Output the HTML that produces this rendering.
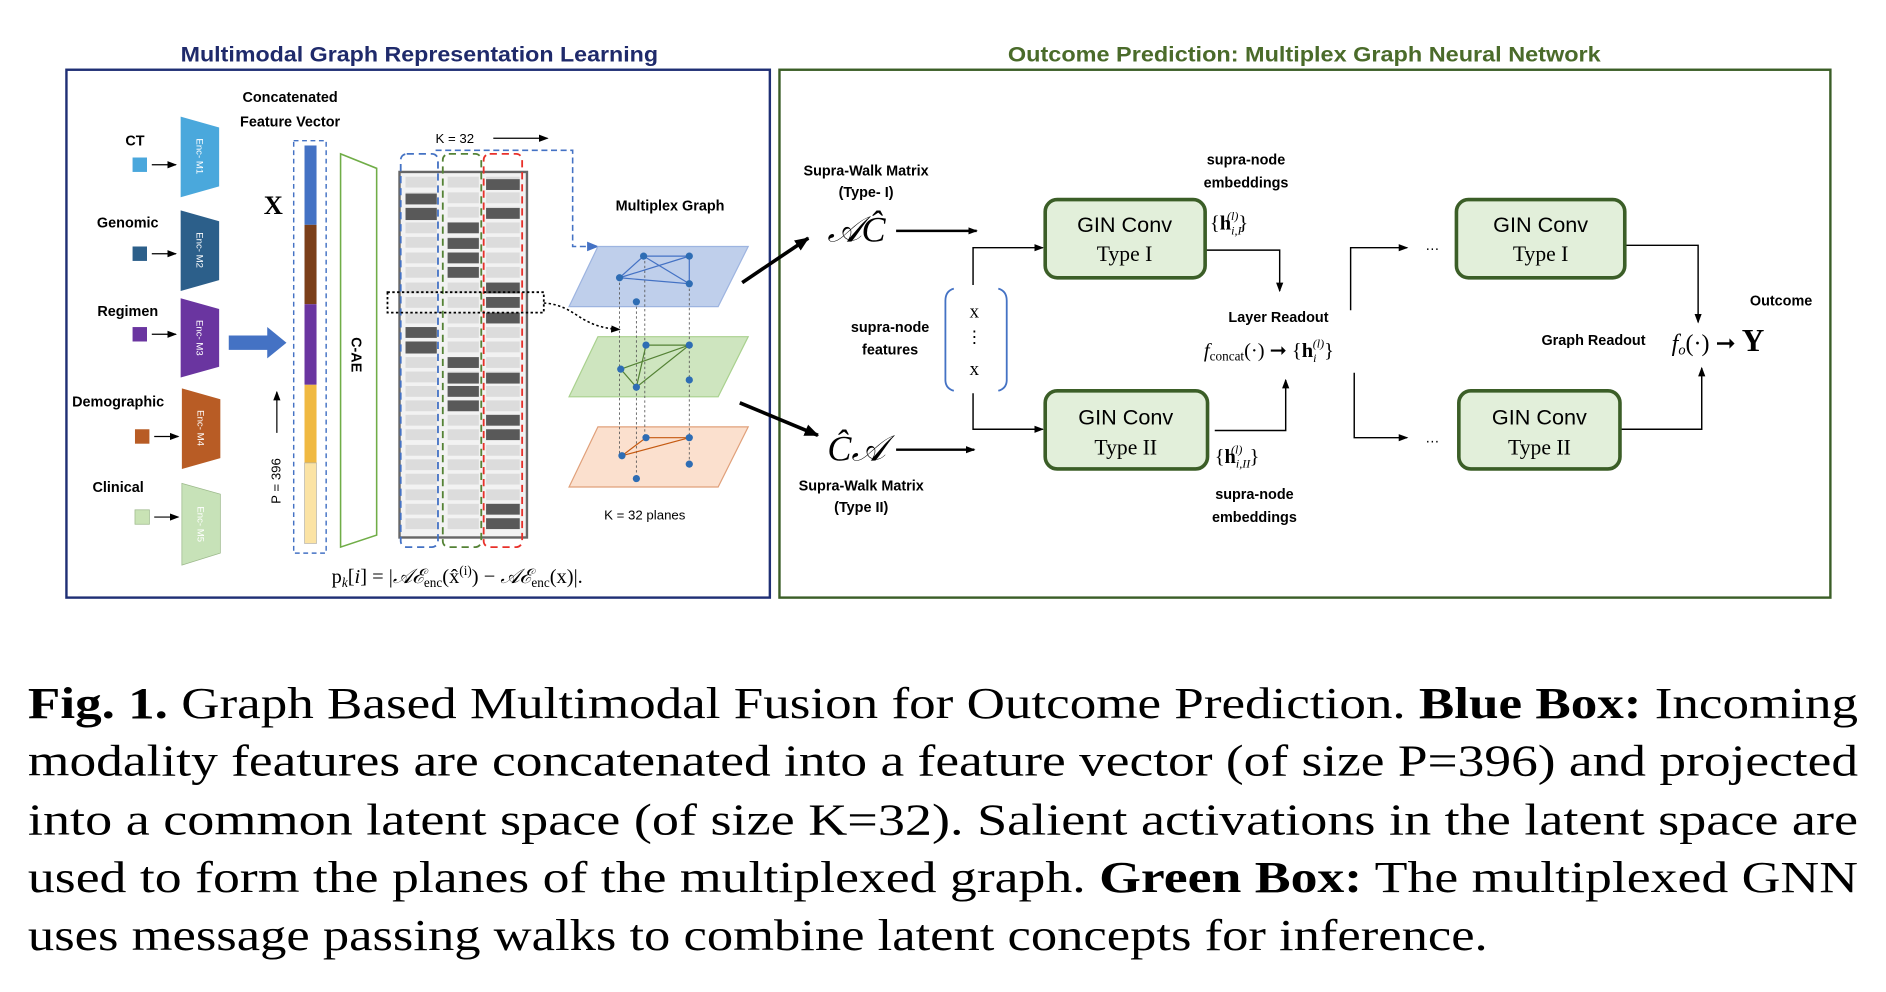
<!DOCTYPE html>
<html><head><meta charset="utf-8"><style>
html,body{margin:0;padding:0;background:#fff;}
svg{display:block;}
.sb{font-family:"Liberation Sans Narrow","Liberation Sans",sans-serif;font-weight:bold;}
.s{font-family:"Liberation Sans Narrow","Liberation Sans",sans-serif;}
.r{font-family:"Liberation Serif","DejaVu Serif",serif;}
</style></head><body>
<svg width="1886" height="992" viewBox="0 0 1568 825" xmlns="http://www.w3.org/2000/svg">
<defs>
<marker id="a" markerWidth="8" markerHeight="8" refX="7" refY="4" orient="auto" markerUnits="userSpaceOnUse"><path d="M0,1 L8,4 L0,7 z" fill="#000"/></marker>
<marker id="ab" markerWidth="12" markerHeight="12" refX="11" refY="6" orient="auto" markerUnits="userSpaceOnUse"><path d="M0,1 L12,6 L0,11 z" fill="#000"/></marker>
<marker id="abl" markerWidth="10" markerHeight="10" refX="9" refY="5" orient="auto" markerUnits="userSpaceOnUse"><path d="M0,1 L10,5 L0,9 z" fill="#4472c4"/></marker>
</defs>

<!-- titles -->
<text x="150" y="51" textLength="397" lengthAdjust="spacingAndGlyphs" class="sb" font-size="18" fill="#1f2a6b">Multimodal Graph Representation Learning</text>
<text x="838" y="51" textLength="493" lengthAdjust="spacingAndGlyphs" class="sb" font-size="18" fill="#4a6b2a">Outcome Prediction: Multiplex Graph Neural Network</text>
<rect x="55" y="58" width="585" height="439" fill="none" stroke="#1f2f75" stroke-width="2"/>
<rect x="648" y="58" width="874" height="439" fill="none" stroke="#3b5e27" stroke-width="2"/>

<!-- modality labels -->
<g class="sb" font-size="12" fill="#000">
<text x="112" y="121" text-anchor="middle">CT</text>
<text x="106" y="189" text-anchor="middle">Genomic</text>
<text x="106" y="263" text-anchor="middle">Regimen</text>
<text x="98" y="338" text-anchor="middle">Demographic</text>
<text x="98" y="409" text-anchor="middle">Clinical</text>
<text x="241" y="85" text-anchor="middle">Concatenated</text>
<text x="241" y="105" text-anchor="middle">Feature Vector</text>
</g>
<rect x="110" y="131" width="12" height="12" fill="#4aa7dc"/>
<rect x="110" y="205" width="12" height="12" fill="#2c5f8a"/>
<rect x="110" y="272" width="12" height="12" fill="#6a35a0"/>
<rect x="112" y="357" width="12" height="12" fill="#b85c25"/>
<rect x="112" y="424" width="12" height="12" fill="#c9e3b5" stroke="#9bb88a" stroke-width="0.6"/>
<g stroke="#000" stroke-width="1" marker-end="url(#a)">
<line x1="126" y1="137" x2="146" y2="137"/>
<line x1="126" y1="211" x2="146" y2="211"/>
<line x1="126" y1="278" x2="146" y2="278"/>
<line x1="128" y1="363" x2="148" y2="363"/>
<line x1="128" y1="430" x2="148" y2="430"/>
</g>
<!-- encoders -->
<polygon points="150,97 182,106 182,155 150,164" fill="#4aa8dc"/>
<polygon points="150,175 182,184 182,233 150,242" fill="#2c5f8a"/>
<polygon points="150,248 182,257 182,305 150,314" fill="#6a35a0"/>
<polygon points="151,323 183,332 183,381 151,390" fill="#b85c25"/>
<polygon points="151,402 183,411 183,460 151,470" fill="#c7e2b8" stroke="#9bb88a" stroke-width="0.6"/>
<g class="s" font-size="8" fill="#fff" text-anchor="middle">
<text transform="translate(163,130) rotate(90)">Enc- M1</text>
<text transform="translate(163,208) rotate(90)">Enc- M2</text>
<text transform="translate(163,281) rotate(90)">Enc- M3</text>
<text transform="translate(164,356) rotate(90)">Enc- M4</text>
<text transform="translate(164,436) rotate(90)">Enc- M5</text>
</g>
<!-- big arrow -->
<polygon points="190,279 222,279 222,272 238,285 222,298 222,291 190,291" fill="#4472c4"/>
<text x="227" y="178" text-anchor="middle" class="r" font-weight="bold" font-size="22">X</text>
<text transform="translate(233,400) rotate(-90)" text-anchor="middle" class="s" font-size="11">P = 396</text>
<line x1="230" y1="360" x2="230" y2="326" stroke="#000" stroke-width="1" marker-end="url(#a)"/>
<!-- feature vector -->
<rect x="244" y="117" width="27" height="343" fill="none" stroke="#4472c4" stroke-width="1.2" stroke-dasharray="4,3"/>
<rect x="253" y="121" width="10" height="66" fill="#4472c4"/>
<rect x="253" y="187" width="10" height="66" fill="#7b3f1a"/>
<rect x="253" y="253" width="10" height="67" fill="#6a35a0"/>
<rect x="253" y="320" width="10" height="65" fill="#f0b942"/>
<rect x="253" y="385" width="10" height="67" fill="#fbe3a4" stroke="#aaa" stroke-width="0.5"/>
<!-- C-AE -->
<polygon points="283,128 313,140 313,445 283,455" fill="none" stroke="#70ad47" stroke-width="1.3"/>
<text transform="translate(292,295) rotate(90)" text-anchor="middle" class="sb" font-size="12">C-AE</text>
<!-- matrix -->
<rect x="332" y="143" width="106" height="304" fill="#f2f2f2" stroke="#666" stroke-width="2"/>
<g fill="#dcdcdc">
<rect x="337" y="147" width="26" height="9"/><rect x="372" y="147" width="26" height="9"/><rect x="404" y="147" width="28" height="9"/>
<rect x="337" y="160" width="26" height="9"/><rect x="372" y="160" width="26" height="9"/><rect x="404" y="160" width="28" height="9"/>
<rect x="337" y="172" width="26" height="9"/><rect x="372" y="172" width="26" height="9"/><rect x="404" y="172" width="28" height="9"/>
<rect x="337" y="185" width="26" height="9"/><rect x="372" y="185" width="26" height="9"/><rect x="404" y="185" width="28" height="9"/>
<rect x="337" y="197" width="26" height="9"/><rect x="372" y="197" width="26" height="9"/><rect x="404" y="197" width="28" height="9"/>
<rect x="337" y="210" width="26" height="9"/><rect x="372" y="210" width="26" height="9"/><rect x="404" y="210" width="28" height="9"/>
<rect x="337" y="222" width="26" height="9"/><rect x="372" y="222" width="26" height="9"/><rect x="404" y="222" width="28" height="9"/>
<rect x="337" y="235" width="26" height="9"/><rect x="372" y="235" width="26" height="9"/><rect x="404" y="235" width="28" height="9"/>
<rect x="337" y="247" width="26" height="9"/><rect x="372" y="247" width="26" height="9"/><rect x="404" y="247" width="28" height="9"/>
<rect x="337" y="260" width="26" height="9"/><rect x="372" y="260" width="26" height="9"/><rect x="404" y="260" width="28" height="9"/>
<rect x="337" y="272" width="26" height="9"/><rect x="372" y="272" width="26" height="9"/><rect x="404" y="272" width="28" height="9"/>
<rect x="337" y="284" width="26" height="9"/><rect x="372" y="284" width="26" height="9"/><rect x="404" y="284" width="28" height="9"/>
<rect x="337" y="297" width="26" height="9"/><rect x="372" y="297" width="26" height="9"/><rect x="404" y="297" width="28" height="9"/>
<rect x="337" y="309" width="26" height="9"/><rect x="372" y="309" width="26" height="9"/><rect x="404" y="309" width="28" height="9"/>
<rect x="337" y="321" width="26" height="9"/><rect x="372" y="321" width="26" height="9"/><rect x="404" y="321" width="28" height="9"/>
<rect x="337" y="333" width="26" height="9"/><rect x="372" y="333" width="26" height="9"/><rect x="404" y="333" width="28" height="9"/>
<rect x="337" y="345" width="26" height="9"/><rect x="372" y="345" width="26" height="9"/><rect x="404" y="345" width="28" height="9"/>
<rect x="337" y="357" width="26" height="9"/><rect x="372" y="357" width="26" height="9"/><rect x="404" y="357" width="28" height="9"/>
<rect x="337" y="370" width="26" height="9"/><rect x="372" y="370" width="26" height="9"/><rect x="404" y="370" width="28" height="9"/>
<rect x="337" y="382" width="26" height="9"/><rect x="372" y="382" width="26" height="9"/><rect x="404" y="382" width="28" height="9"/>
<rect x="337" y="394" width="26" height="9"/><rect x="372" y="394" width="26" height="9"/><rect x="404" y="394" width="28" height="9"/>
<rect x="337" y="407" width="26" height="9"/><rect x="372" y="407" width="26" height="9"/><rect x="404" y="407" width="28" height="9"/>
<rect x="337" y="419" width="26" height="9"/><rect x="372" y="419" width="26" height="9"/><rect x="404" y="419" width="28" height="9"/>
<rect x="337" y="431" width="26" height="9"/><rect x="372" y="431" width="26" height="9"/><rect x="404" y="431" width="28" height="9"/>
</g>
<g fill="#595959">
<rect x="337" y="161" width="26" height="9"/><rect x="337" y="173" width="26" height="10"/>
<rect x="337" y="272" width="26" height="9"/><rect x="337" y="284" width="26" height="10"/>
<rect x="372" y="185" width="26" height="9"/><rect x="372" y="198" width="26" height="9"/><rect x="372" y="210" width="26" height="9"/><rect x="372" y="222" width="26" height="9"/>
<rect x="372" y="297" width="26" height="9"/><rect x="372" y="310" width="26" height="9"/><rect x="372" y="321" width="26" height="9"/><rect x="372" y="333" width="26" height="9"/>
<rect x="404" y="149" width="28" height="9"/><rect x="404" y="173" width="28" height="9"/><rect x="404" y="235" width="28" height="9"/><rect x="404" y="247" width="28" height="9"/><rect x="404" y="260" width="28" height="9"/><rect x="404" y="310" width="28" height="9"/><rect x="404" y="345" width="28" height="9"/><rect x="404" y="357" width="28" height="9"/><rect x="404" y="419" width="28" height="9"/><rect x="404" y="431" width="28" height="9"/>
</g>
<rect x="333" y="128" width="31" height="327" rx="5" fill="none" stroke="#4472c4" stroke-width="1.5" stroke-dasharray="6,4"/>
<rect x="368" y="128" width="32" height="327" rx="5" fill="none" stroke="#548235" stroke-width="1.5" stroke-dasharray="6,4"/>
<rect x="402" y="128" width="32" height="327" rx="5" fill="none" stroke="#e8302a" stroke-width="1.5" stroke-dasharray="6,4"/>
<rect x="322" y="243" width="130" height="17" fill="none" stroke="#000" stroke-width="1.5" stroke-dasharray="2,2"/>
<path d="M452,252 C480,254 480,272 515,274" fill="none" stroke="#000" stroke-width="1.3" stroke-dasharray="2,2" marker-end="url(#a)"/>
<text x="378" y="119" text-anchor="middle" class="s" font-size="11">K = 32</text>
<line x1="410" y1="115" x2="455" y2="115" stroke="#000" stroke-width="1" marker-end="url(#a)"/>
<polyline points="362,125 476,125 476,205 497,205" fill="none" stroke="#4472c4" stroke-width="1.3" stroke-dasharray="5,3" marker-end="url(#abl)"/>
<text x="557" y="175" text-anchor="middle" class="sb" font-size="12">Multiplex Graph</text>
<!-- planes -->
<polygon points="497,355 622,355 597,405 473,405" fill="#f8cbad" fill-opacity="0.6" stroke="#e0a07a"/>
<polygon points="497,280 622,280 597,330 473,330" fill="#c5e0b4" fill-opacity="0.85" stroke="#a9d18e"/>
<polygon points="497,205 622,205 597,255 473,255" fill="#b4c7e7" fill-opacity="0.85" stroke="#9db4e0"/>
<g stroke="#555" stroke-width="0.7" stroke-dasharray="2,2">
<line x1="515" y1="231" x2="515" y2="379"/><line x1="529" y1="251" x2="529" y2="398"/><line x1="573" y1="236" x2="573" y2="386"/><line x1="536" y1="213" x2="536" y2="364"/>
</g>
<g stroke="#4472c4" stroke-width="1" fill="none"><polyline points="535,213 573,213 573,236 515,231 535,213 573,236"/><line x1="573" y1="213" x2="515" y2="231"/></g>
<g stroke="#548235" stroke-width="1" fill="none"><polyline points="537,287 573,287 529,322 516,307 573,287"/><line x1="537" y1="287" x2="529" y2="322"/></g>
<g stroke="#c55a11" stroke-width="1" fill="none"><polyline points="537,364 573,364 517,379 537,364"/></g>
<g fill="#2e6db4">
<circle cx="535" cy="213" r="3"/><circle cx="573" cy="213" r="3"/><circle cx="515" cy="231" r="3"/><circle cx="573" cy="236" r="3"/><circle cx="529" cy="251" r="3"/>
<circle cx="537" cy="287" r="3"/><circle cx="573" cy="287" r="3"/><circle cx="516" cy="307" r="3"/><circle cx="529" cy="322" r="3"/><circle cx="573" cy="316" r="3"/>
<circle cx="537" cy="364" r="3"/><circle cx="573" cy="364" r="3"/><circle cx="517" cy="379" r="3"/><circle cx="573" cy="386" r="3"/><circle cx="529" cy="398" r="3"/>
</g>
<text x="536" y="432" text-anchor="middle" class="s" font-size="11">K = 32 planes</text>
<text x="380" y="485" text-anchor="middle" class="r" font-size="17">p<tspan font-size="11" dy="3" font-style="italic">k</tspan><tspan dy="-3">[</tspan><tspan font-style="italic">i</tspan>] = |<tspan font-style="italic">𝒜ℰ</tspan><tspan font-size="11" dy="3">enc</tspan><tspan dy="-3">(x̂</tspan><tspan font-size="11" dy="-7">(i)</tspan><tspan dy="7">) − </tspan><tspan font-style="italic">𝒜ℰ</tspan><tspan font-size="11" dy="3">enc</tspan><tspan dy="-3">(x)|.</tspan></text>
<!-- big arrows -->
<line x1="617" y1="235" x2="672" y2="198" stroke="#000" stroke-width="3" marker-end="url(#ab)"/>
<line x1="615" y1="335" x2="680" y2="362" stroke="#000" stroke-width="3" marker-end="url(#ab)"/>

<!-- right -->
<g class="sb" font-size="12" text-anchor="middle">
<text x="720" y="146">Supra-Walk Matrix</text><text x="720" y="164">(Type- I)</text>
<text x="716" y="408">Supra-Walk Matrix</text><text x="716" y="426">(Type II)</text>
<text x="740" y="276">supra-node</text><text x="740" y="295">features</text>
<text x="1036" y="137">supra-node</text><text x="1036" y="156">embeddings</text>
<text x="1043" y="415">supra-node</text><text x="1043" y="434">embeddings</text>
<text x="1063" y="268">Layer Readout</text>
<text x="1325" y="287">Graph Readout</text>
<text x="1481" y="254">Outcome</text>
</g>
<text x="712" y="201" text-anchor="middle" class="r" font-style="italic" font-size="30">𝒜Ĉ</text>
<text x="712" y="383" text-anchor="middle" class="r" font-style="italic" font-size="30">Ĉ𝒜</text>
<line x1="745" y1="192" x2="812" y2="192" stroke="#000" stroke-width="2" marker-end="url(#a)"/>
<line x1="745" y1="374" x2="810" y2="374" stroke="#000" stroke-width="2" marker-end="url(#a)"/>
<path d="M793,240 Q786,242 786,250 L786,316 Q786,323 793,325" fill="none" stroke="#4472c4" stroke-width="1.5"/>
<path d="M830,240 Q837,242 837,250 L837,316 Q837,323 830,325" fill="none" stroke="#4472c4" stroke-width="1.5"/>
<text x="810" y="264" text-anchor="middle" class="r" font-size="16">x</text>
<text x="810" y="285" text-anchor="middle" class="r" font-size="14">⋮</text>
<text x="810" y="312" text-anchor="middle" class="r" font-size="16">x</text>
<g fill="none" stroke="#000" stroke-width="1.2">
<polyline points="809,237 809,206 867,206" marker-end="url(#a)"/>
<polyline points="809,327 809,357 867,357" marker-end="url(#a)"/>
<polyline points="1002,208 1064,208 1064,242" marker-end="url(#a)"/>
<polyline points="1010,358 1069,358 1069,316" marker-end="url(#a)"/>
<polyline points="1123,258 1123,206 1170,206" marker-end="url(#a)"/>
<polyline points="1126,310 1126,364 1170,364" marker-end="url(#a)"/>
<polyline points="1351,204 1412,204 1412,268" marker-end="url(#a)"/>
<polyline points="1347,357 1415,357 1415,306" marker-end="url(#a)"/>
</g>
<text x="1191" y="208" text-anchor="middle" class="s" font-size="12">…</text>
<text x="1191" y="368" text-anchor="middle" class="s" font-size="12">…</text>
<g fill="#e2efda" stroke="#3b5e27" stroke-width="3">
<rect x="869" y="166" width="133" height="65" rx="10"/>
<rect x="869" y="325" width="135" height="65" rx="10"/>
<rect x="1211" y="166" width="140" height="65" rx="10"/>
<rect x="1213" y="325" width="134" height="65" rx="10"/>
</g>
<g text-anchor="middle" font-size="18">
<text x="935" y="193" class="s">GIN Conv</text><text x="935" y="217" class="r">Type I</text>
<text x="936" y="353" class="s">GIN Conv</text><text x="936" y="378" class="r">Type II</text>
<text x="1281" y="193" class="s">GIN Conv</text><text x="1281" y="217" class="r">Type I</text>
<text x="1280" y="353" class="s">GIN Conv</text><text x="1280" y="378" class="r">Type II</text>
</g>
<g class="r" font-size="17">
<text x="1006" y="191">{<tspan font-weight="bold">h</tspan><tspan font-size="10" dy="4" font-style="italic">i,I</tspan><tspan font-size="10" dx="-12" dy="-12" font-style="italic">(l)</tspan><tspan dy="8">}</tspan></text>
<text x="1010" y="385">{<tspan font-weight="bold">h</tspan><tspan font-size="10" dy="4" font-style="italic">i,II</tspan><tspan font-size="10" dx="-16" dy="-12" font-style="italic">(l)</tspan><tspan dx="6" dy="8">}</tspan></text>
<text x="1001" y="297"><tspan font-style="italic">f</tspan><tspan font-size="11" dy="3">concat</tspan><tspan dy="-3">(·) ➞  {</tspan><tspan font-weight="bold">h</tspan><tspan font-size="10" dy="4" font-style="italic">i</tspan><tspan font-size="10" dx="-3" dy="-12" font-style="italic">(l)</tspan><tspan dy="8">}</tspan></text>
<text x="1390" y="292" font-size="20"><tspan font-style="italic">f</tspan><tspan font-size="12" dy="3" font-style="italic">o</tspan><tspan dy="-3">(·) ➞ </tspan><tspan font-weight="bold" font-size="26">Y</tspan></text>
</g>

<!-- caption -->
<g class="r" font-size="37" fill="#000">
<text x="23" y="597" textLength="1522" lengthAdjust="spacingAndGlyphs"><tspan font-weight="bold">Fig. 1.</tspan> Graph Based Multimodal Fusion for Outcome Prediction. <tspan font-weight="bold">Blue Box:</tspan> Incoming</text>
<text x="23" y="645" textLength="1522" lengthAdjust="spacingAndGlyphs">modality features are concatenated into a feature vector (of size P=396) and projected</text>
<text x="23" y="694" textLength="1522" lengthAdjust="spacingAndGlyphs">into a common latent space (of size K=32). Salient activations in the latent space are</text>
<text x="23" y="742" textLength="1522" lengthAdjust="spacingAndGlyphs">used to form the planes of the multiplexed graph. <tspan font-weight="bold">Green Box:</tspan> The multiplexed GNN</text>
<text x="23" y="790" textLength="1214" lengthAdjust="spacingAndGlyphs">uses message passing walks to combine latent concepts for inference.</text>
</g>
</svg>
</body></html>
